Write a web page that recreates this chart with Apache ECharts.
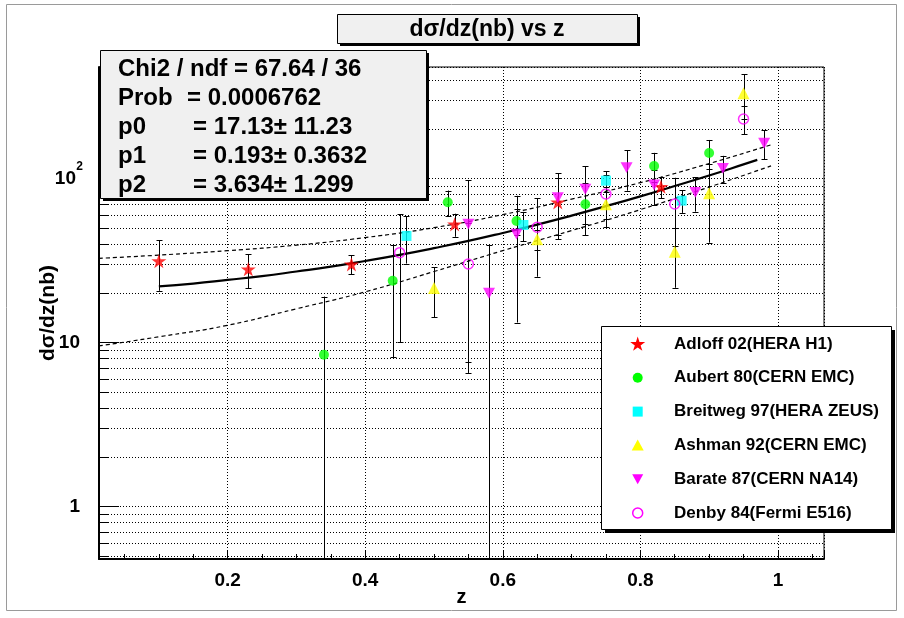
<!DOCTYPE html>
<html><head><meta charset="utf-8">
<script src="https://cdn.jsdelivr.net/npm/echarts@6/dist/echarts.min.js"></script>
<style>html,body{margin:0;padding:0;background:#fff}#c{width:904px;height:618px}</style>
</head><body><div id="c"></div>
<script>
// ---------------- data ----------------
const xTickValues = [0.2, 0.4, 0.6, 0.8, 1.0];
const xTickLabels = ['0.2', '0.4', '0.6', '0.8', '1'];
const yTickValues = [1, 10, 100];
const yTickLabels = ['1', '10', '10^2'];
const yMinorValues = [0.5,0.6,0.7,0.8,0.9,2,3,4,5,6,7,8,9,20,30,40,50,60,70,80,90,200,300,400];

const seriesNames = ['Adloff 02(HERA H1)','Aubert 80(CERN EMC)','Breitweg 97(HERA ZEUS)','Ashman 92(CERN EMC)','Barate 87(CERN NA14)','Denby 84(Fermi E516)'];

const adloffX = [0.10, 0.23, 0.38, 0.53, 0.68, 0.83];
const adloffY = [31.3, 27.9, 29.9, 52.4, 71.4, 88.9];
const adloffErr = [10.7, 6.6, 4.0, 8.4, 29, 13.5];

const aubertX = [0.34, 0.44, 0.52, 0.62, 0.72, 0.82, 0.90];
const aubertY = [8.4, 23.7, 71.4, 54.9, 69.4, 118.9, 142.6];
const aubertErr = [10.6, 15.6, 12.8, 10, 24.3, 24, 28.6];

const breitwegX = [0.46, 0.63, 0.75, 0.86];
const breitwegY = [44.5, 51.9, 96.7, 73.0];
const breitwegErr = [14.3, 10.5, 8, 11.5];

const ashmanX = [0.50, 0.65, 0.75, 0.85, 0.90, 0.95];
const ashmanY = [21.4, 42.5, 69.4, 35.7, 81, 330];
const ashmanErr = [7.2, 6, 13, 14.2, 40.5, 100];

const barateX = [0.55, 0.58, 0.62, 0.68, 0.72, 0.78, 0.82, 0.88, 0.92, 0.98];
const barateY = [52.6, 19.9, 45.7, 76.1, 85.7, 116, 91, 82.1, 115, 163.5];
const barateErr = [45, 19.5, 32.5, 31, 33, 32, 22, 19.5, 22, 33];

const denbyX = [0.45, 0.55, 0.65, 0.75, 0.85, 0.95];
const denbyY = [35.2, 30.0, 50.3, 80.2, 69.7, 230];
const denbyErr = [25.2, 23.5, 25.2, 29.9, 31, 45];

const fitX = [0.10,0.15,0.20,0.25,0.30,0.35,0.40,0.45,0.50,0.55,0.60,0.65,0.70,0.75,0.80,0.85,0.90,0.95,0.97];
const fitY = [21.9,22.8,24.0,25.3,27.0,28.9,31.3,34.1,37.5,41.5,46.4,52.2,59.2,67.6,77.6,89.7,104,121.5,129.4];

const bandX = [0.013,0.10,0.20,0.30,0.40,0.50,0.60,0.70,0.80,0.90,0.99];
const bandUpper = [32.5,34,36.2,39.1,43.5,50,60,74.6,94,123,160];
const bandLower = [9.5,10.8,12.7,16.0,20.3,27,36.2,48,64.4,88.4,119];

const titleText = 'dσ/dz(nb) vs z';
const statsLabels = ['Chi2 / ndf = 67.64 / 36', 'Prob', 'p0', 'p1', 'p2'];
const statsValues = ['', '= 0.0006762', '= 17.13± 11.23', '= 0.193± 0.3632', '= 3.634± 1.299'];

// ---------------- chart ----------------
const X_MIN = 0.013, X_MAX = 1.067, Y_MIN = 0.477, Y_MAX = 477;
const FONT = '"Liberation Sans", Arial, Helvetica, sans-serif';
const STAR_PTS = [[50,0],[61.2,34.5],[97.6,34.5],[68.2,55.9],[79.4,90.5],[50,69.1],[20.6,90.5],[31.8,55.9],[2.4,34.5],[38.8,34.5]];
const STAR = 'path://M' + STAR_PTS.map(p => p[0] + ',' + p[1]).join(' L') + ' Z';
const DOWN_TRI = 'path://M0,0 L10,0 L5,9 Z';
const colors = ['#ff0000', '#00ff00', '#00ffff', '#ffff00', '#ff00ff', '#ff00ff'];

const pts = (xs, ys) => xs.map((x, i) => [x, ys[i]]);
const errData = (xs, ys, es) => xs.map((x, i) => [x, ys[i], es[i]]);

function renderErr(params, api) {
  const x = api.value(0), y = api.value(1), e = api.value(2);
  const lo = Math.max(y - e, Y_MIN * 0.01);
  const top = api.coord([x, y + e]);
  const bot = api.coord([x, lo]);
  const cx = Math.round(top[0]) + 0.5;
  const cw = 3;
  const st = { stroke: '#000', lineWidth: 1 };
  return { type: 'group', children: [
    { type: 'line', shape: { x1: cx, y1: top[1], x2: cx, y2: bot[1] }, style: st },
    { type: 'line', shape: { x1: cx - cw, y1: Math.round(top[1]) + 0.5, x2: cx + cw, y2: Math.round(top[1]) + 0.5 }, style: st },
    { type: 'line', shape: { x1: cx - cw, y1: Math.round(bot[1]) + 0.5, x2: cx + cw, y2: Math.round(bot[1]) + 0.5 }, style: st }
  ]};
}

function renderMinor(params, api) {
  const v = api.value(1);
  const p1 = api.coord([X_MIN, v]);
  const p2 = api.coord([X_MAX, v]);
  const y = Math.round(p1[1]) + 0.5;
  return { type: 'group', children: [
    { type: 'line', shape: { x1: p1[0], y1: y, x2: p2[0], y2: y }, style: { stroke: '#000', lineWidth: 1, lineDash: [1, 2] } },
    { type: 'line', shape: { x1: p1[0], y1: y, x2: p1[0] + 10, y2: y }, style: { stroke: '#000', lineWidth: 1 } }
  ]};
}

function errSeries(xs, ys, es) {
  return { type: 'custom', renderItem: renderErr, data: errData(xs, ys, es), clip: true, z: 3, silent: true };
}
function markSeries(i, xs, ys, symbol, size, extra) {
  return Object.assign({
    type: 'scatter', name: seriesNames[i], data: pts(xs, ys), symbol: symbol, symbolSize: size,
    symbolKeepAspect: true, itemStyle: { color: colors[i] }, z: 6, silent: true
  }, extra || {});
}

// stats box + title + legend graphics
const graphics = [];
graphics.push({ type: 'rect', z: 100, shape: { x: 6.5, y: 4.5, width: 890, height: 606 }, style: { fill: 'none', stroke: '#9a9a9a', lineWidth: 1 } });
graphics.push({ type: 'rect', z: 100, shape: { x: 340, y: 17, width: 300, height: 29 }, style: { fill: '#000' } });
graphics.push({ type: 'rect', z: 101, shape: { x: 337.5, y: 14.5, width: 300, height: 29 }, style: { fill: '#f0f0f0', stroke: '#000', lineWidth: 1 } });
graphics.push({ type: 'text', z: 102, x: 487, y: 30, style: { text: titleText, fontSize: 23, fontWeight: 'bold', fontFamily: FONT, fill: '#000', align: 'center', verticalAlign: 'middle' } });

graphics.push({ type: 'rect', z: 100, shape: { x: 103, y: 53, width: 326, height: 148 }, style: { fill: '#000' } });
graphics.push({ type: 'rect', z: 101, shape: { x: 100.5, y: 50.5, width: 326, height: 148 }, style: { fill: '#f0f0f0', stroke: '#000', lineWidth: 1 } });
const statsY = [69, 98.3, 127.5, 156.7, 185.8];
const statsValX = [0, 187, 193, 193, 193];
statsLabels.forEach((t, i) => {
  graphics.push({ type: 'text', z: 102, x: 118, y: statsY[i], style: { text: t, fontSize: 24, fontWeight: 'bold', fontFamily: FONT, fill: '#000', align: 'left', verticalAlign: 'middle' } });
  if (statsValues[i]) graphics.push({ type: 'text', z: 102, x: statsValX[i], y: statsY[i], style: { text: statsValues[i], fontSize: 24, fontWeight: 'bold', fontFamily: FONT, fill: '#000', align: 'left', verticalAlign: 'middle' } });
});

// legend box
graphics.push({ type: 'rect', z: 100, shape: { x: 605, y: 330, width: 290, height: 203 }, style: { fill: '#000' } });
graphics.push({ type: 'rect', z: 101, shape: { x: 601.5, y: 326.5, width: 290, height: 203 }, style: { fill: '#fff', stroke: '#000', lineWidth: 1 } });
seriesNames.forEach((n, i) => {
  const cy = 344 + i * 33.8, cx = 637.7;
  let sym;
  if (i === 0) {
    const k = 15 / 95.2;
    sym = { type: 'polygon', shape: { points: STAR_PTS.map(p => [cx + (p[0] - 50) * k, cy + (p[1] - 47) * k]) }, style: { fill: colors[0] } };
  }
  else if (i === 1) sym = { type: 'circle', shape: { cx: cx, cy: cy, r: 5 }, style: { fill: colors[1] } };
  else if (i === 2) sym = { type: 'rect', shape: { x: cx - 5, y: cy - 5, width: 10, height: 10 }, style: { fill: colors[2] } };
  else if (i === 3) sym = { type: 'polygon', shape: { points: [[cx - 6, cy + 5], [cx + 6, cy + 5], [cx, cy - 6]] }, style: { fill: colors[3] } };
  else if (i === 4) sym = { type: 'polygon', shape: { points: [[cx - 5.5, cy - 5], [cx + 5.5, cy - 5], [cx, cy + 5]] }, style: { fill: colors[4] } };
  else sym = { type: 'circle', shape: { cx: cx, cy: cy, r: 5 }, style: { fill: 'none', stroke: colors[5], lineWidth: 1.5 } };
  sym.z = 102;
  graphics.push(sym);
  graphics.push({ type: 'text', z: 102, x: 674, y: cy, style: { text: n, fontSize: 17, fontWeight: 'bold', fontFamily: FONT, fill: '#000', align: 'left', verticalAlign: 'middle' } });
});

const chart = echarts.init(document.getElementById('c'), null, { renderer: 'canvas' });
chart.setOption({
  animation: false,
  backgroundColor: '#fff',
  grid: { left: 99, top: 67, width: 725, height: 492, show: true, borderColor: '#000', borderWidth: 1, backgroundColor: 'transparent', containLabel: false },
  xAxis: {
    type: 'value', min: X_MIN, max: X_MAX, splitNumber: 5,
    axisLine: { show: true, onZero: false, lineStyle: { color: '#000', width: 2 } },
    axisTick: { show: true, inside: true, length: 8, lineStyle: { color: '#000', width: 1 } },
    minorTick: { show: true, splitNumber: 4, length: 5, lineStyle: { color: '#000', width: 1 } },
    axisLabel: {
      margin: 12, fontSize: 19, fontWeight: 'bold', fontFamily: FONT, color: '#000',
      formatter: v => { const i = xTickValues.findIndex(t => Math.abs(t - v) < 1e-6); return i >= 0 ? xTickLabels[i] : ''; }
    },
    splitLine: { show: true, lineStyle: { color: '#000', width: 1, type: [1, 2] } },
    name: 'z', nameLocation: 'middle', nameGap: 28, nameMoveOverlap: false,
    nameTextStyle: { fontSize: 20, fontWeight: 'bold', fontFamily: FONT, color: '#000' }
  },
  yAxis: {
    type: 'log', logBase: 10, min: Y_MIN, max: Y_MAX,
    axisLine: { show: true, lineStyle: { color: '#000', width: 2 } },
    axisTick: { show: true, inside: true, length: 20, lineStyle: { color: '#000', width: 1 } },
    axisLabel: {
      margin: 19, fontSize: 19, fontWeight: 'bold', fontFamily: FONT, color: '#000',
      formatter: v => {
        const i = yTickValues.findIndex(t => Math.abs(t - v) / t < 1e-6);
        if (i < 0) return '';
        const s = yTickLabels[i];
        if (s.indexOf('^') > 0) { const p = s.split('^'); return '{b|' + p[0] + '}{s|' + p[1] + '}'; }
        return s;
      },
      rich: {
        b: { fontSize: 19, fontWeight: 'bold', fontFamily: FONT, color: '#000' },
        s: { fontSize: 12, fontWeight: 'bold', fontFamily: FONT, color: '#000', width: 1, align: 'left', padding: [0, 0, 24, 3] }
      }
    },
    splitLine: { show: true, lineStyle: { color: '#000', width: 1, type: [1, 2] } },
    name: 'dσ/dz(nb)', nameLocation: 'middle', nameGap: 40, nameMoveOverlap: false,
    nameTextStyle: { fontSize: 21, fontWeight: 'bold', fontFamily: FONT, color: '#000' }
  },
  graphic: graphics,
  series: [
    { type: 'custom', renderItem: renderMinor, data: yMinorValues.map(v => [X_MIN, v]), clip: true, z: 1, silent: true },
    { type: 'line', data: pts(bandX, bandUpper), symbol: 'none', smooth: true, lineStyle: { color: '#000', width: 1.2, type: [4, 3] }, z: 4, silent: true },
    { type: 'line', data: pts(bandX, bandLower), symbol: 'none', smooth: true, lineStyle: { color: '#000', width: 1.2, type: [4, 3] }, z: 4, silent: true },
    { type: 'line', data: pts(fitX, fitY), symbol: 'none', smooth: true, lineStyle: { color: '#000', width: 2.2 }, z: 4, silent: true },
    errSeries(adloffX, adloffY, adloffErr),
    errSeries(aubertX, aubertY, aubertErr),
    errSeries(breitwegX, breitwegY, breitwegErr),
    errSeries(ashmanX, ashmanY, ashmanErr),
    errSeries(barateX, barateY, barateErr),
    errSeries(denbyX, denbyY, denbyErr),
    markSeries(0, adloffX, adloffY, STAR, 15),
    markSeries(1, aubertX, aubertY, 'circle', 10),
    markSeries(2, breitwegX, breitwegY, 'rect', 10),
    markSeries(3, ashmanX, ashmanY, 'triangle', 12),
    markSeries(4, barateX, barateY, DOWN_TRI, 12),
    markSeries(5, denbyX, denbyY, 'circle', 10, { itemStyle: { color: 'rgba(0,0,0,0)', borderColor: colors[5], borderWidth: 1.5 } })
  ]
});
</script>
</body></html>
